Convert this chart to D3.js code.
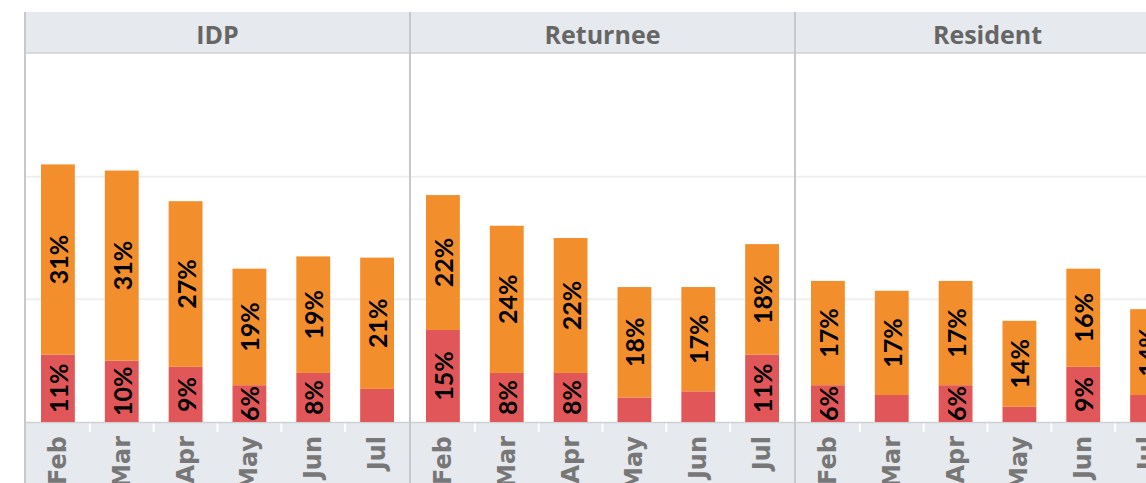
<!DOCTYPE html>
<html>
<head>
<meta charset="utf-8">
<script src="https://cdn.jsdelivr.net/npm/d3@7"></script>
<style>
  body { margin: 0; background: #fff; }
  text { font-weight: 700; }
</style>
</head>
<body>
<div id="chart"></div>
<script>
// data
var groups = ["IDP", "Returnee", "Resident"];
var months = ["Feb", "Mar", "Apr", "May", "Jun", "Jul"];
var redValues = {
  IDP:      [11, 10, 9, 6, 8, 5.4],
  Returnee: [15, 8, 8, 4, 5, 11],
  Resident: [6, 4.4, 6, 2.5, 9, 4.4]
};
var orangeValues = {
  IDP:      [31, 31, 27, 19, 19, 21.4],
  Returnee: [22, 24, 22, 18, 17, 18],
  Resident: [17, 17, 17, 14, 16, 14]
};
var gridTicks = [20, 40];

var W = 1146, H = 483;
var left = 25, panelW = 385;
var headTop = 12, headBottom = 53, base = 422;
var minLabelH = 34; // segments shorter than this get no label

var svg = d3.select("#chart").append("svg")
  .attr("width", W)
  .attr("height", H);

var panelX = d3.scaleBand()
  .domain(groups)
  .range([left, left + panelW * groups.length]);

var x = d3.scaleBand()
  .domain(months)
  .range([1, panelW - 1])
  .paddingInner(0.47)
  .paddingOuter(0.235);

var y = d3.scaleLinear()
  .domain([0, 60])
  .range([base, headBottom + 1]);

// header band
svg.append("rect")
  .attr("x", left).attr("y", headTop)
  .attr("width", W - left).attr("height", headBottom - headTop)
  .style("fill", "#e6e9ed");
svg.append("line")
  .attr("x1", left).attr("x2", W)
  .attr("y1", headBottom).attr("y2", headBottom)
  .style("stroke", "#cfd1d4").style("stroke-width", 1.5);

// axis band
svg.append("rect")
  .attr("x", left).attr("y", base)
  .attr("width", W - left).attr("height", H - base)
  .style("fill", "#e6e9ed");
svg.append("line")
  .attr("x1", left).attr("x2", W)
  .attr("y1", base + 0.5).attr("y2", base + 0.5)
  .style("stroke", "#cfd1d4").style("stroke-width", 1.5);

// gridlines
svg.selectAll(".grid")
  .data(gridTicks)
  .enter()
  .append("line")
  .attr("x1", left).attr("x2", W)
  .attr("y1", d => y(d)).attr("y2", d => y(d))
  .style("stroke", "#efefef").style("stroke-width", 2);

groups.forEach(function(g) {
  var p = svg.append("g")
    .attr("transform", "translate(" + panelX(g) + ",0)");

  p.append("text")
    .attr("x", panelW / 2)
    .attr("y", (headTop + headBottom) / 2 + 1)
    .attr("text-anchor", "middle")
    .attr("dominant-baseline", "central")
    .style("font-family", "'Open Sans', sans-serif")
    .style("font-size", "25px")
    .style("fill", "#666")
    .text(g);

  // white separators in the axis band
  p.selectAll(".sep")
    .data(months.slice(1))
    .enter()
    .append("line")
    .attr("x1", d => x(d) - x.step() * x.paddingInner() / 2)
    .attr("x2", d => x(d) - x.step() * x.paddingInner() / 2)
    .attr("y1", base + 1.5).attr("y2", base + 10)
    .style("stroke", "#fff").style("stroke-width", 2);

  var rows = months.map(function(m, i) {
    return { m: m, red: redValues[g][i], orange: orangeValues[g][i] };
  });

  var segs = [];
  rows.forEach(function(r) {
    segs.push({ m: r.m, y0: 0, y1: r.red, v: r.red, c: "#e15759" });
    segs.push({ m: r.m, y0: r.red, y1: r.red + r.orange, v: r.orange, c: "#f28e2b" });
  });

  p.selectAll("rect.bar")
    .data(segs)
    .enter()
    .append("rect")
    .attr("class", "bar")
    .attr("x", d => x(d.m))
    .attr("width", x.bandwidth())
    .attr("y", d => y(d.y1))
    .attr("height", d => y(d.y0) - y(d.y1))
    .style("fill", d => d.c);

  p.selectAll("text.lab")
    .data(segs.filter(d => y(d.y0) - y(d.y1) >= minLabelH))
    .enter()
    .append("text")
    .attr("class", "lab")
    .attr("transform", d => "translate(" + (x(d.m) + x.bandwidth() / 2) + "," + (y(d.y0) + y(d.y1)) / 2 + ") rotate(-90)")
    .attr("text-anchor", "middle")
    .attr("dominant-baseline", "central")
    .style("font-family", "Lato, sans-serif")
    .style("font-size", "25px")
    .style("fill", "#000")
    .text(d => Math.round(d.v) + "%");

  p.selectAll("text.month")
    .data(months)
    .enter()
    .append("text")
    .attr("class", "month")
    .attr("transform", d => "translate(" + (x(d) + x.bandwidth() / 2) + "," + (base + 14) + ") rotate(-90)")
    .attr("text-anchor", "end")
    .attr("dominant-baseline", "central")
    .style("font-family", "'DejaVu Sans', sans-serif")
    .style("font-size", "24px")
    .style("fill", "#777")
    .text(d => d);
});

// panel dividers
svg.selectAll(".divider")
  .data(groups)
  .enter()
  .append("line")
  .attr("x1", d => panelX(d)).attr("x2", d => panelX(d))
  .attr("y1", headTop).attr("y2", H)
  .style("stroke", "#c8c8c8").style("stroke-width", 2);
</script>
</body>
</html>
